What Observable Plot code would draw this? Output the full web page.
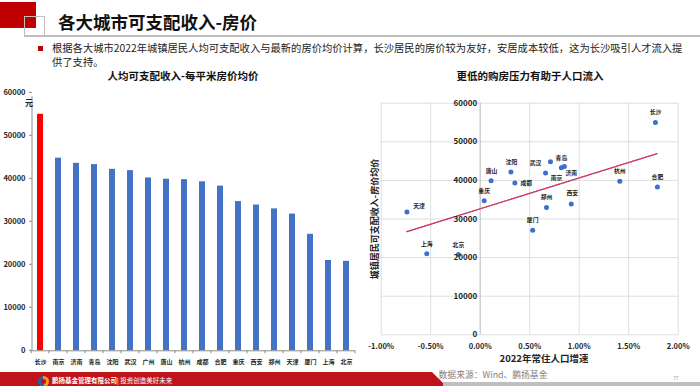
<!DOCTYPE html>
<html lang="zh">
<head>
<meta charset="utf-8">
<script src="https://cdn.jsdelivr.net/npm/d3@7"></script>
<script src="https://cdn.jsdelivr.net/npm/@observablehq/plot@0.6"></script>
<style>
html,body{margin:0;padding:0;background:#fff;}
body{width:700px;height:386px;position:relative;overflow:hidden;font-family:"Noto Sans CJK SC","Noto Sans",sans-serif;color:#111;}
.a{position:absolute;white-space:nowrap;}
.c{transform:translate(-50%,-50%);}
#left,#right{position:absolute;top:80px;}
#left{left:0;}
#right{left:360px;}
</style>
</head>
<body>
<div id="left"></div>
<div id="right"></div>

<div class="a" style="left:0;top:2px;width:36px;height:26px;background:#c00000"></div>
<div class="a" style="left:24px;top:16px;width:19px;height:20px;border:1.5px solid #bfbfbf;border-bottom:none"></div>
<div class="a" style="left:24px;top:35px;width:676px;height:2px;background:#bfbfbf"></div>
<div class="a" style="left:58px;top:12px;font-size:17.5px;line-height:20px;font-weight:700;color:#111">各大城市可支配收入-房价</div>
<div class="a" style="left:38px;top:45.5px;width:5px;height:5px;background:#c00000"></div>
<div class="a" style="left:52px;top:41px;font-size:10.3px;line-height:13.5px;color:#222">根据各大城市2022年城镇居民人均可支配收入与最新的房价均价计算，长沙居民的房价较为友好，安居成本较低，这为长沙吸引人才流入提<br>供了支持。</div>
<div class="a c" style="left:183px;top:75px;font-size:10.5px;font-weight:700">人均可支配收入-每平米房价均价</div>
<div class="a c" style="left:530px;top:75px;font-size:10.5px;font-weight:700">更低的购房压力有助于人口流入</div>
<div class="a c" style="left:29px;top:102px;font-size:8px;font-weight:700;color:#222">元</div>

<div class="a c" style="left:374px;top:218.5px;font-size:9px;font-weight:700;color:#222;transform:translate(-50%,-50%) rotate(-90deg)">城镇居民可支配收入-房价均价</div>
<div class="a c" style="left:544px;top:357.5px;font-size:9.5px;font-weight:700;color:#222">2022年常住人口增速</div>
<div class="a c" style="left:493px;top:374px;font-size:8.8px;color:#7f7f7f">数据来源：Wind、鹏扬基金</div>

<div class="a" style="left:0;top:372px;width:446px;height:14px;background:#c0141b;clip-path:polygon(0 0,432px 0,446px 14px,0 14px)"></div>
<div class="a" style="left:443px;top:382px;width:257px;height:4px;background:#bfbfbf"></div>
<div class="a" style="left:673px;top:374px;font-size:5px;color:#999">37</div>
<div class="a" style="left:38px;top:375.5px;width:11px;height:11px;border-radius:50%;background:conic-gradient(#f39a1e 0 50%,#1f5fb4 50% 100%)"></div>
<div class="a" style="left:41px;top:378.5px;width:5px;height:5px;border-radius:50%;background:#c0141b"></div>
<div class="a" style="left:52px;top:375.5px;font-size:6.5px;line-height:9px;font-weight:700;color:#fff">鹏扬基金管理有限公司</div>
<div class="a" style="left:117px;top:375.5px;font-size:6.5px;line-height:9px;color:#fff">| 投资创造美好未来</div>

<script>
// ---------- data ----------
const cities = ["长沙","南京","济南","青岛","沈阳","武汉","广州","唐山","杭州","成都","合肥","重庆","西安","郑州","天津","厦门","上海","北京"];
const ratio  = [55000,44800,43600,43300,42200,41900,40200,39900,39800,39300,38300,34700,33900,33000,31800,27100,21000,20800];
const yTicks = [0,10000,20000,30000,40000,50000,60000];

const scatterCities = ["天津","上海","北京","重庆","唐山","沈阳","成都","厦门","武汉","郑州","南京","青岛","济南","西安","杭州","长沙","合肥"];
const popGrowth     = [-0.74,-0.54,-0.22,0.04,0.11,0.31,0.35,0.53,0.66,0.67,0.71,0.82,0.85,0.92,1.41,1.77,1.79]; // %
const xTicks = [-1,-0.5,0,0.5,1,1.5,2];

// ---------- styling helpers ----------
const font = "'Noto Sans CJK SC', 'Noto Sans', sans-serif";
const highlight = "长沙";
const labelOffset = { // px offsets of scatter labels from their dots
  "天津":[12,-6],"上海":[0,-9.5],"北京":[0,-9.5],"重庆":[0,-10],"唐山":[0.5,-10],"沈阳":[0.5,-10],
  "成都":[11.5,0],"厦门":[0,-10],"武汉":[-10,-10],"郑州":[0,-10],"南京":[6,16],"青岛":[0,-10],
  "济南":[7,7],"西安":[1,-11],"杭州":[0,-10],"长沙":[0,-10],"合肥":[0,-9.5]
};

const bars = cities.map((c,i)=>({city:c, value:ratio[i]}));

// ---------- left: bar chart ----------
const L = {w:360,h:300,ml:31,mr:5,mt:12.3,mb:29.7,pi:0.667,po:0.333};
function leftAxes(index, scales, values, dims) {
  const g = d3.create("svg:g");
  const x0 = dims.marginLeft + 1;
  g.append("line").attr("x1",x0).attr("x2",x0)
    .attr("y1",scales.y(60000)+4).attr("y2",scales.y(0)).attr("stroke","#8c8c8c");
  const step = scales.x(cities[1]) - scales.x(cities[0]);
  const y0 = scales.y(0);
  for (let i = 0; i <= cities.length; i++) {
    const xb = (i < cities.length ? scales.x(cities[i]) : scales.x(cities[i-1]) + step) - step*L.pi/2;
    g.append("line").attr("x1",xb).attr("x2",xb).attr("y1",y0).attr("y2",y0+3).attr("stroke","#8c8c8c");
  }
  for (const t of yTicks) {
    g.append("line").attr("x1",x0-3).attr("x2",x0).attr("y1",scales.y(t)).attr("y2",scales.y(t)).attr("stroke","#8c8c8c");
  }
  return g.node();
}
const left = Plot.plot({
  width:L.w, height:L.h, marginLeft:L.ml, marginRight:L.mr, marginTop:L.mt, marginBottom:L.mb,
  style:{fontFamily:font, background:"transparent", overflow:"visible"},
  x:{domain:cities, paddingInner:L.pi, paddingOuter:L.po, label:null},
  y:{domain:[0,60000], label:null},
  marks:[
    Plot.barY(bars.filter(d=>d.city!==highlight),{x:"city", y:"value", fill:"#4472c4"}),
    Plot.barY(bars.filter(d=>d.city===highlight),{x:"city", y:"value", fill:"#ff0000"}),
    Plot.ruleY([0],{stroke:"#8c8c8c"}),
    leftAxes,
    Plot.axisY({ticks:yTicks, tickSize:0, tickPadding:6, tickFormat:d=>String(d), fontSize:7.5, fontWeight:"bold", fill:"#262626", label:null}),
    Plot.axisX({tickSize:0, tickPadding:9.4, fontSize:6, fontWeight:"bold", fill:"#262626", label:null})
  ]
});
document.getElementById("left").appendChild(left);

// ---------- right: scatter ----------
const R = {w:340,h:300,ml:20.7,mr:22.3,mt:22.7,mb:45.7};
const incomeByCity = new Map(cities.map((c,i)=>[c, ratio[i]]));
const pts = scatterCities.map((c,i)=>({city:c, g:popGrowth[i], v:incomeByCity.get(c)}));
const pxX = (R.w-R.ml-R.mr)/3;          // px per 1%
const pxY = (R.h-R.mt-R.mb)/60000;      // px per unit
const labels = pts.map(d=>{
  const [dx,dy] = labelOffset[d.city];
  return {city:d.city, lx:d.g + dx/pxX, ly:d.v - dy/pxY};
});
const pct = d => (d<0?"-":"") + Math.abs(d).toFixed(2) + "%";

const right = Plot.plot({
  width:R.w, height:R.h, marginLeft:R.ml, marginRight:R.mr, marginTop:R.mt, marginBottom:R.mb,
  style:{fontFamily:font, background:"transparent", overflow:"visible"},
  x:{domain:[-1,2], label:null},
  y:{domain:[0,60000], label:null},
  marks:[
    Plot.ruleX(xTicks,{stroke:"#dedede"}),
    Plot.ruleY(yTicks,{stroke:"#dedede"}),
    Plot.ruleX([0],{stroke:"#c4c4c4"}),
    Plot.linearRegressionY(pts,{x:"g", y:"v", ci:0, stroke:"#6a7fd6", strokeWidth:1.1}),
    Plot.linearRegressionY(pts,{x:"g", y:"v", ci:0, stroke:"#e8304e", strokeWidth:1.3, strokeDasharray:"1.3,1.3"}),
    Plot.dot(pts,{x:"g", y:"v", r:2.5, fill:"#3b6fd0"}),
    Plot.text(labels,{x:"lx", y:"ly", text:"city", fontSize:5.8, fontWeight:"bold", fill:"#222"}),
    Plot.text(yTicks,{x:()=>0, y:d=>d, text:d=>String(d), textAnchor:"end", dx:-3, fontSize:8, fontWeight:"bold", fill:"#262626"}),
    Plot.axisX({ticks:xTicks, tickSize:0, tickPadding:9, tickFormat:pct, fontSize:7.5, fontWeight:"bold", fill:"#262626", label:null}),
    Plot.axisY({ticks:[], label:null})
  ]
});
document.getElementById("right").appendChild(right);
</script>
</body>
</html>
